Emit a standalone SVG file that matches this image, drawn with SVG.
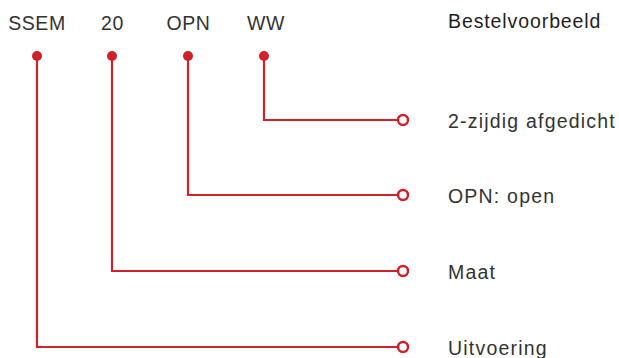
<svg xmlns="http://www.w3.org/2000/svg" width="619" height="358" viewBox="0 0 619 358">
<style>
.t{font-family:"Liberation Sans",Arial,sans-serif;font-size:19.5px;fill:#333;letter-spacing:1.2px}
.top{font-family:"Liberation Sans",Arial,sans-serif;font-size:19.5px;fill:#333;letter-spacing:0.6px;text-anchor:middle}
.h{font-family:"Liberation Sans",Arial,sans-serif;font-size:19.5px;fill:#1e1e1e;letter-spacing:0.9px}
.c{fill:none;stroke:#d0202a;stroke-width:2.2}
.dot{fill:#d0202a}
.end{fill:#fff;stroke:#d0202a;stroke-width:2.4}
</style>
<rect width="619" height="358" fill="#fff"/>
<g id="header"><text class="h" x="448" y="28">Bestelvoorbeeld</text></g>
<g id="code-ssem"><text class="top" x="37" y="30">SSEM</text><circle class="dot" cx="37" cy="56" r="5"/></g>
<g id="code-20"><text class="top" x="112.5" y="30">20</text><circle class="dot" cx="112" cy="56" r="5"/></g>
<g id="code-opn"><text class="top" x="188.5" y="30">OPN</text><circle class="dot" cx="188" cy="56" r="5"/></g>
<g id="code-ww"><text class="top" x="266" y="30">WW</text><circle class="dot" cx="264" cy="56" r="5"/></g>
<g id="connectors">
<path class="c" d="M264 56 V120 H398"/>
<path class="c" d="M188 56 V195 H398"/>
<path class="c" d="M112 56 V271 H398"/>
<path class="c" d="M37 56 V347 H398"/>
</g>
<g id="label-ww"><circle class="end" cx="403" cy="120" r="5"/><text class="t" x="448" y="128">2-zijdig afgedicht</text></g>
<g id="label-opn"><circle class="end" cx="403" cy="195" r="5"/><text class="t" x="448" y="203">OPN: open</text></g>
<g id="label-20"><circle class="end" cx="403" cy="271" r="5"/><text class="t" x="448" y="279">Maat</text></g>
<g id="label-ssem"><circle class="end" cx="403" cy="347" r="5"/><text class="t" x="448" y="355">Uitvoering</text></g>
</svg>
